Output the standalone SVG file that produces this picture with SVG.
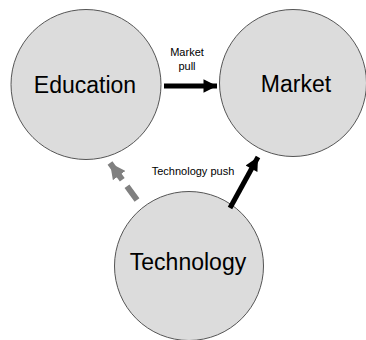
<svg xmlns="http://www.w3.org/2000/svg" width="366" height="340" viewBox="0 0 366 340">
<style>
.node circle{fill:#dcdcdc;stroke:#555;stroke-width:1}
.big{font-family:"Liberation Sans",Arial,sans-serif;font-size:23px;fill:#000;text-anchor:middle}
.small{font-family:"Liberation Sans",Arial,sans-serif;font-size:11px;fill:#000;text-anchor:middle}
</style>
<defs>
<marker id="ab" viewBox="0 0 10 10" refX="10" refY="5" markerWidth="3.2" markerHeight="2.7" orient="auto" markerUnits="strokeWidth">
<path d="M0,0 L10,5 L0,10 z" fill="#000"/>
</marker>
<marker id="ag" viewBox="0 0 10 10" refX="10" refY="5" markerWidth="2.6" markerHeight="2.6" orient="auto" markerUnits="strokeWidth">
<path d="M0,0 L10,5 L0,10 z" fill="#808080"/>
</marker>
</defs>
<rect width="366" height="340" fill="#fff"/>
<g id="education" class="node">
<circle cx="86" cy="84.5" r="75"/>
<text class="big" x="85" y="93">Education</text>
</g>
<g id="market" class="node">
<circle cx="293" cy="83" r="73.5"/>
<text class="big" x="296" y="92">Market</text>
</g>
<g id="technology" class="node">
<circle cx="189" cy="266" r="74.5"/>
<text class="big" x="188" y="270">Technology</text>
</g>
<g id="connectors">
<line x1="164" y1="86" x2="217" y2="86" stroke="#000" stroke-width="5" marker-end="url(#ab)"/>
<line x1="230" y1="208" x2="258" y2="157" stroke="#000" stroke-width="5" marker-end="url(#ab)"/>
<line x1="137" y1="200" x2="110" y2="163" stroke="#808080" stroke-width="6" stroke-dasharray="17,8,40" marker-end="url(#ag)"/>
</g>
<g id="labels">
<text class="small" x="187" y="56">Market</text>
<text class="small" x="187" y="70">pull</text>
<text class="small" x="193" y="175">Technology push</text>
</g>
</svg>
